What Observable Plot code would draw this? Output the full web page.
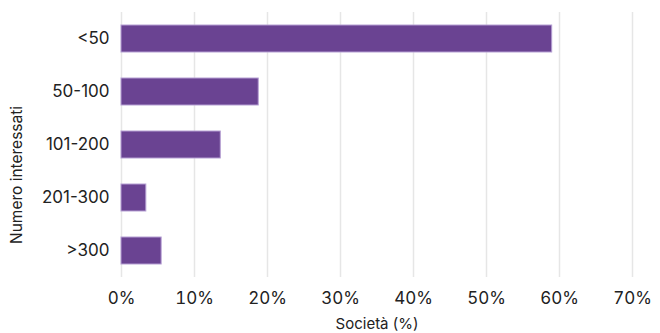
<!DOCTYPE html>
<html>
<head>
<meta charset="utf-8">
<script src="https://cdn.jsdelivr.net/npm/d3@7"></script>
<script src="https://cdn.jsdelivr.net/npm/@observablehq/plot@0.6"></script>
<style>
  html, body { margin: 0; padding: 0; background: #fff; }
  #chart svg { font-family: Inter, "Noto Sans", sans-serif; }
</style>
</head>
<body>
<div id="chart"></div>
<script>
const categories = ["<50", "50-100", "101-200", "201-300", ">300"];
const values = [59.0, 18.8, 13.6, 3.4, 5.5];
const xTicks = [0, 10, 20, 30, 40, 50, 60, 70];

const data = categories.map((c, i) => ({cat: c, val: values[i]}));

const chart = Plot.plot({
  width: 660,
  height: 333,
  marginTop: 12,
  marginBottom: 56,
  marginLeft: 121,
  marginRight: 28,
  style: {fontFamily: "Inter, 'Noto Sans', sans-serif", fontSize: "17px", color: "#222", background: "#fff"},
  x: {domain: [0, 70], ticks: xTicks, tickFormat: d => d + "%", label: null},
  y: {domain: categories, paddingInner: 0.5, paddingOuter: 0.25, label: null},
  marks: [
    Plot.gridX(xTicks, {stroke: "#e6e6e6", strokeOpacity: 1, strokeWidth: 1.5}),
    Plot.barX(data, {x: "val", y: "cat", fill: "#6a4392", stroke: "#b59fd3", strokeWidth: 1}),
    Plot.axisX(xTicks, {tickSize: 0, tickPadding: 14, fontSize: 17, tickFormat: d => d + "%", label: null}),
    Plot.axisY({tickSize: 0, tickPadding: 12, fontSize: 17, label: null}),
    Plot.text(["Società (%)"], {frameAnchor: "bottom", dy: 51, fontSize: 15, fill: "#222"}),
    Plot.text(["Numero interessati"], {frameAnchor: "left", textAnchor: "middle", dx: -104, dy: 30, rotate: -90, fontSize: 15.5, fill: "#222"})
  ]
});
document.getElementById("chart").appendChild(chart);
</script>
</body>
</html>
